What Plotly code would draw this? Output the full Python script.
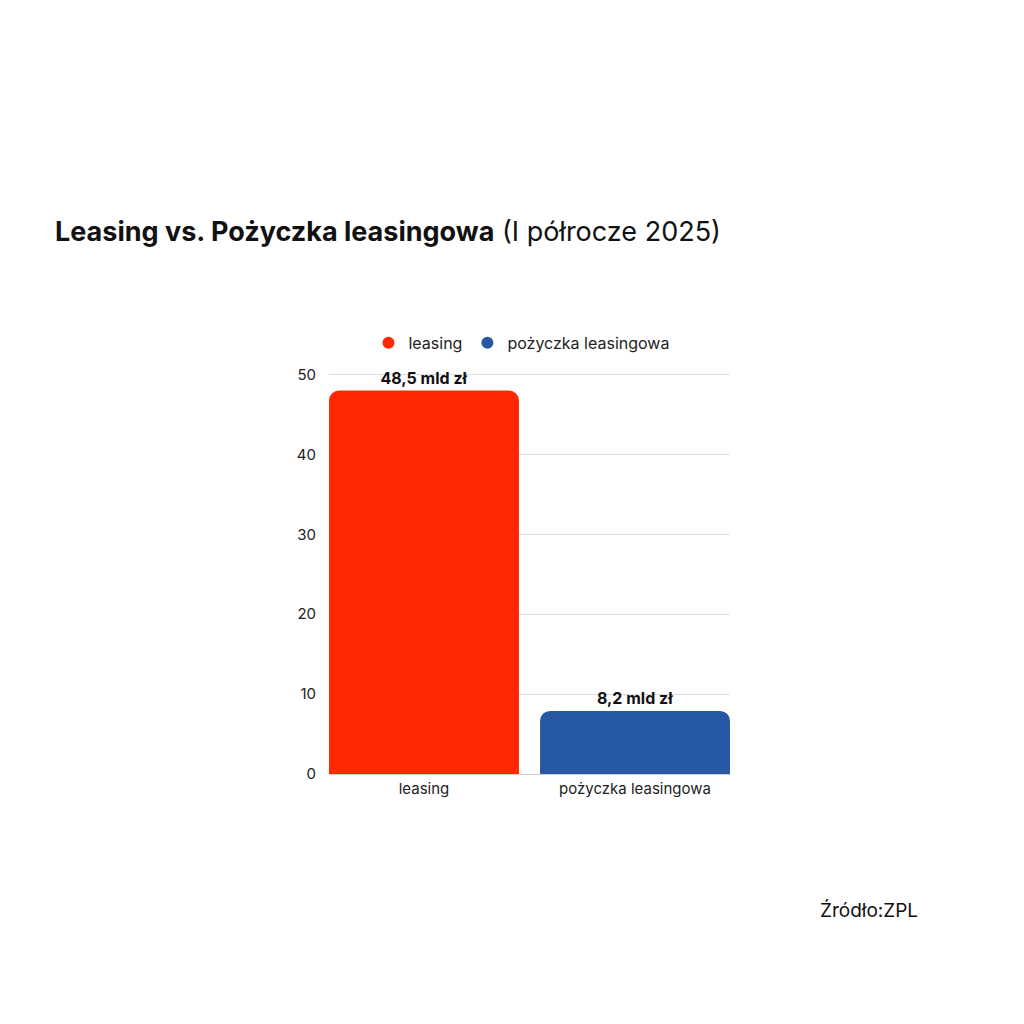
import plotly.graph_objects as go

categories = ["leasing", "pożyczka leasingowa"]
values = [48, 7.9]
value_labels = ["48,5 mld zł", "8,2 mld zł"]
colors = ["#FF2800", "#2658A3"]
y_ticks = [0, 10, 20, 30, 40, 50]

FONT = "Inter"

fig = go.Figure()
fig.add_trace(go.Bar(
    x=categories, y=values,
    marker=dict(color=colors, line=dict(width=0)),
    text=value_labels, textposition="outside", cliponaxis=False,
    textfont=dict(family=FONT, size=16, color="#111111", weight="bold"),
    showlegend=False, hoverinfo="skip",
))

# legend entries with round markers
for name, c in zip(categories, colors):
    fig.add_trace(go.Scatter(
        x=[None], y=[None], mode="markers", name=name,
        marker=dict(symbol="circle", size=16, color=c),
    ))

# page body adds an 8px offset, margins account for it
fig.update_layout(
    width=1024, height=1024,
    paper_bgcolor="#FFFFFF", plot_bgcolor="#FFFFFF",
    margin=dict(l=321, r=302, t=365, b=258),
    bargap=0.1, barcornerradius=10,
    font=dict(family=FONT, size=15, color="#222222"),
    title=dict(
        text="<b>Leasing vs. Pożyczka leasingowa</b> (I półrocze 2025)",
        font=dict(family=FONT, size=27, color="#111111"),
        xref="container", yref="container", x=47 / 1024, xanchor="left",
        y=1 - 224 / 1024, yanchor="middle",
    ),
    legend=dict(
        orientation="h", x=0.48, xanchor="center", y=1.075, yanchor="middle",
        font=dict(family=FONT, size=16, color="#222222"),
        itemsizing="constant", itemwidth=30,
    ),
    xaxis=dict(
        range=[-0.45, 1.45], showgrid=False, ticks="",
        tickfont=dict(family=FONT, size=15, color="#222222"),
        showline=False, zeroline=False, ticklabelstandoff=4,
    ),
    yaxis=dict(
        range=[0, 50.2], tickvals=y_ticks, showgrid=True,
        gridcolor="#DDDDDD", gridwidth=1, zeroline=True,
        zerolinecolor="#D0D0D0", zerolinewidth=1,
        tickfont=dict(family=FONT, size=15, color="#222222"),
        ticks="", ticklabelstandoff=12,
    ),
    annotations=[dict(
        text="Źródło:ZPL", xref="paper", yref="paper",
        x=1 + 190 / 401, xanchor="right", y=-(910 - 774) / 401, yanchor="middle",
        showarrow=False, font=dict(family=FONT, size=19, color="#111111"),
    )],
)

fig.write_html("out.html")
